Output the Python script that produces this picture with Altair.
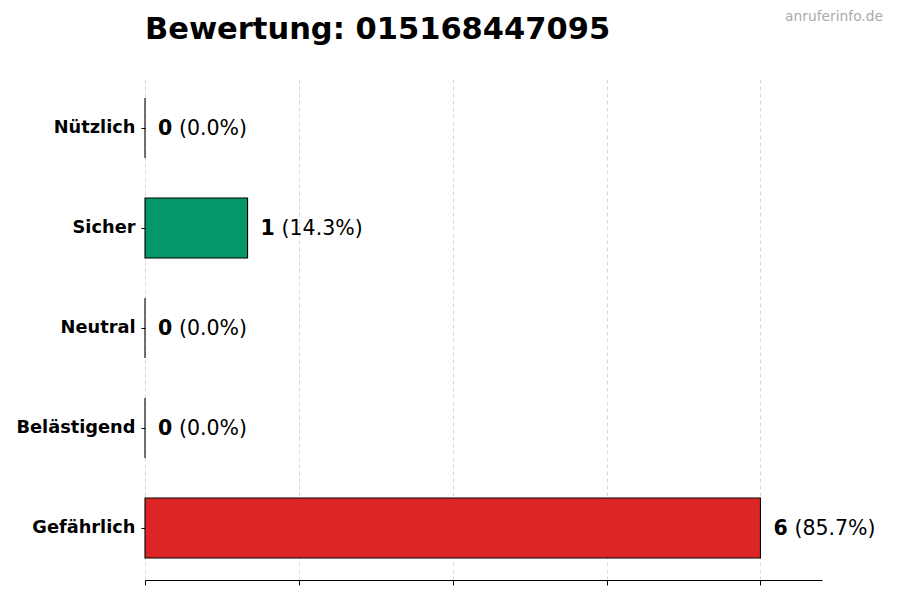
import altair as alt
import pandas as pd

categories = ['Nützlich', 'Sicher', 'Neutral', 'Belästigend', 'Gefährlich']
counts = [0, 1, 0, 0, 6]
colors = ['#16a34a', '#059669', '#9ca3af', '#f59e0b', '#dc2626']
x_ticks = [0, 1.5, 3, 4.5, 6]
phone = '015168447095'

total = sum(counts)
df = pd.DataFrame({
    'category': categories,
    'count': counts,
    'color': colors,
    'bold': [str(c) for c in counts],
    'pct': ['({:.1f}%)'.format(100 * c / total) for c in counts],
})

plotWidth = 677
plotHeight = 504

x = alt.X('count:Q', scale=alt.Scale(domain=[0, 6.6], nice=False, zero=True),
          axis=alt.Axis(values=x_ticks, labels=False, title=None, grid=True,
                        gridDash=[4, 3], gridColor='#cfcfcf', gridWidth=0.8,
                        domainColor='black', domainWidth=1.2,
                        tickColor='black', tickSize=5))
y = alt.Y('category:N', sort=categories,
          scale=alt.Scale(paddingInner=0.4, paddingOuter=0.22),
          axis=alt.Axis(title=None, domain=False, tickColor='black', tickSize=4,
                        labelPadding=6, labelFontSize=17.8, labelFontWeight='bold',
                        labelColor='black', labelFont='DejaVu Sans'))

base = alt.Chart(df).encode(x=x, y=y)

bars = base.mark_bar(stroke='black', strokeWidth=1.1).encode(
    color=alt.Color('color:N', scale=None)
)

bold_text = base.mark_text(align='left', baseline='middle', dx=13, dy=1, fontSize=20.5,
                           fontWeight='bold', font='DejaVu Sans', color='black').encode(
    text='bold:N'
)
pct_text = base.mark_text(align='left', baseline='middle', dx=34, dy=1, fontSize=20.5,
                          font='DejaVu Sans', color='black').encode(
    text='pct:N'
)

# title and watermark sit above the plot area
heading = alt.Chart(pd.DataFrame({'t': ['Bewertung: ' + phone]})).mark_text(
    align='left', baseline='alphabetic', fontSize=30.5, fontWeight='bold',
    font='DejaVu Sans', color='black'
).encode(x=alt.value(0), y=alt.value(-37), text='t:N')

mark = alt.Chart(pd.DataFrame({'t': ['anruferinfo.de']})).mark_text(
    align='right', baseline='middle', fontSize=13.8, font='DejaVu Sans', color='#aaaaaa'
).encode(x=alt.value(738), y=alt.value(-59), text='t:N')

chart = (bars + bold_text + pct_text + heading + mark).properties(
    width=plotWidth,
    height=plotHeight,
    background='white',
    autosize=alt.AutoSizeParams(type='none'),
    padding={'left': 137, 'top': 68, 'right': 70, 'bottom': 12},
).configure_view(stroke=None)

chart.save('out.html', embed_options={'renderer': 'svg', 'actions': False})
